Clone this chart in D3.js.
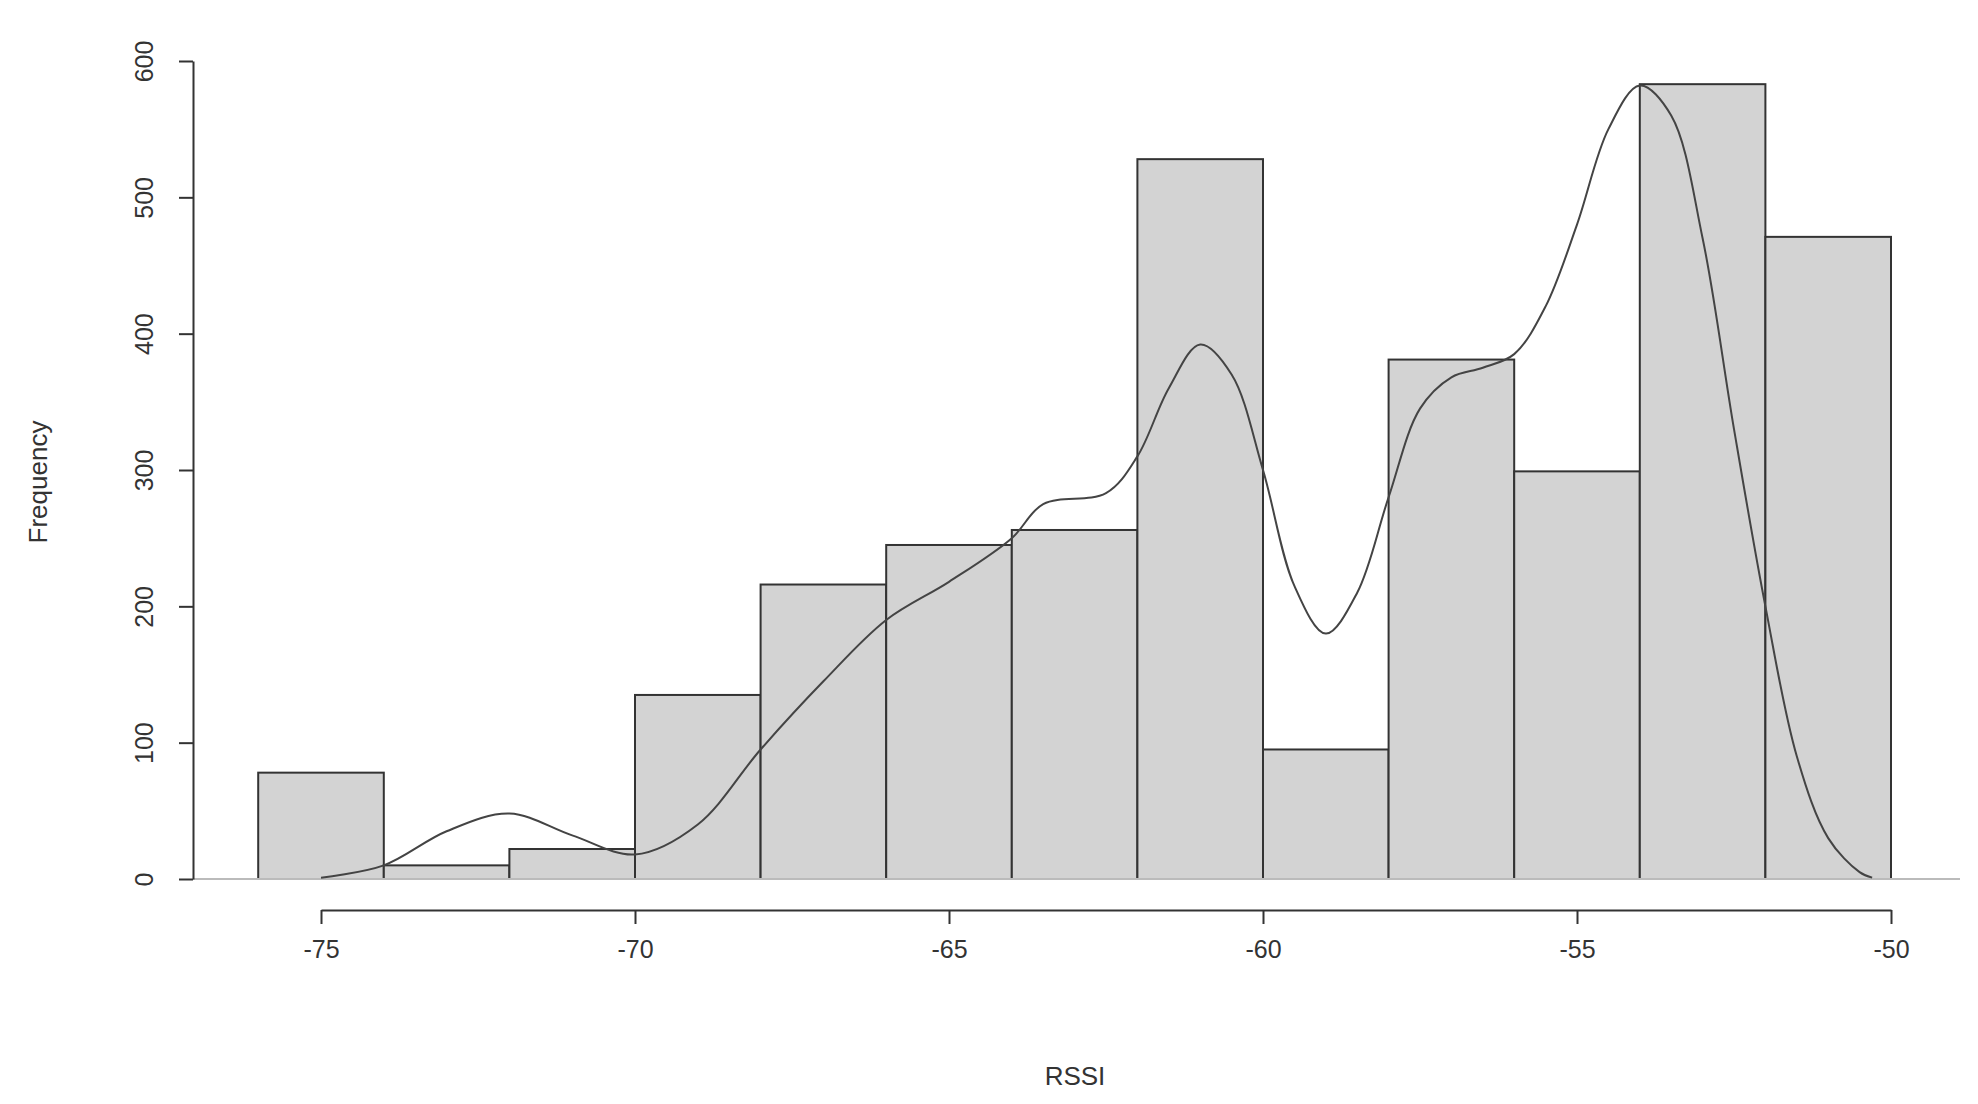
<!DOCTYPE html>
<html>
<head>
<meta charset="utf-8">
<script src="https://cdn.jsdelivr.net/npm/d3@7"></script>
<style>
  body { margin: 0; background: #fff; }
  text { font-family: "Liberation Sans", Arial, sans-serif; fill: #333; }
</style>
</head>
<body>
<svg id="chart" width="1978" height="1104"></svg>
<script>
// histogram bins (2 dB wide) and counts
var binStarts = [-76, -74, -72, -70, -68, -66, -64, -62, -60, -58, -56, -54, -52];
var counts = [78, 10, 22, 135, 216, 245, 256, 528, 95, 381, 299, 583, 471];
var binWidth = 2;

// density curve (scaled to frequency)
var curveX = [-75, -74, -73, -72, -71, -70, -69, -68, -67, -66, -65, -64, -63.5, -62.5, -62, -61.5, -61, -60.5, -60, -59.5, -59, -58.5, -58, -57.5, -57, -56.5, -56, -55.5, -55, -54.5, -54, -53.5, -53, -52.5, -52, -51.5, -51, -50.5, -50.3];
var curveY = [1, 10, 35, 48, 32, 18, 40, 95, 145, 190, 218, 250, 275, 283, 310, 360, 392, 370, 300, 215, 180, 210, 280, 345, 368, 375, 385, 420, 480, 550, 582, 560, 470, 330, 200, 90, 30, 5, 1];

var xTicks = [-75, -70, -65, -60, -55, -50];
var yTicks = [0, 100, 200, 300, 400, 500, 600];

var svg = d3.select("#chart");

var xScale = d3.scaleLinear().domain([-75, -50]).range([321, 1891]);
var yScale = d3.scaleLinear().domain([0, 600]).range([879, 61]);

// bars
svg.append("g").selectAll("rect")
  .data(counts)
  .enter().append("rect")
  .attr("x", function(d, i){ return xScale(binStarts[i]); })
  .attr("y", function(d){ return yScale(d); })
  .attr("width", function(d, i){ return xScale(binStarts[i] + binWidth) - xScale(binStarts[i]); })
  .attr("height", function(d){ return yScale(0) - yScale(d); })
  .attr("fill", "#d3d3d3")
  .attr("stroke", "#333")
  .attr("stroke-width", 2);

// baseline
svg.append("line")
  .attr("x1", 193).attr("x2", 1960)
  .attr("y1", yScale(0)).attr("y2", yScale(0))
  .attr("stroke", "#bbb").attr("stroke-width", 2);

// density line
var pts = curveX.map(function(x, i){ return [x, curveY[i]]; });
var line = d3.line()
  .x(function(d){ return xScale(d[0]); })
  .y(function(d){ return yScale(d[1]); })
  .curve(d3.curveCatmullRom);
svg.append("path")
  .attr("d", line(pts))
  .attr("fill", "none")
  .attr("stroke", "#444")
  .attr("stroke-width", 2);

// x axis
var xAxis = d3.axisBottom(xScale).tickValues(xTicks).tickSize(14).tickSizeOuter(0).tickPadding(16);
var xg = svg.append("g").attr("transform", "translate(0,910)").call(xAxis);
xg.selectAll("path, line").attr("stroke", "#333").attr("stroke-width", 2);
xg.selectAll("text").style("font-size", "25px").attr("fill", "#333")
  .text(function(d){ return "-" + Math.abs(d); });

// y axis
var yAxis = d3.axisLeft(yScale).tickValues(yTicks).tickSize(14).tickSizeOuter(0).tickPadding(0);
var yg = svg.append("g").attr("transform", "translate(193,0)").call(yAxis);
yg.select(".domain").attr("stroke", "#333").attr("stroke-width", 2);
yg.selectAll("line").attr("stroke", "#333").attr("stroke-width", 2);
yg.selectAll("text")
  .style("font-size", "25px").attr("fill", "#333")
  .attr("x", 0).attr("dy", 0)
  .attr("text-anchor", "middle")
  .attr("transform", "translate(-40,0) rotate(-90)");

// axis titles
svg.append("text")
  .attr("x", 1075).attr("y", 1085)
  .attr("text-anchor", "middle")
  .style("font-size", "26px")
  .text("RSSI");

svg.append("text")
  .attr("transform", "translate(47,482) rotate(-90)")
  .attr("text-anchor", "middle")
  .style("font-size", "26px")
  .text("Frequency");
</script>
</body>
</html>
